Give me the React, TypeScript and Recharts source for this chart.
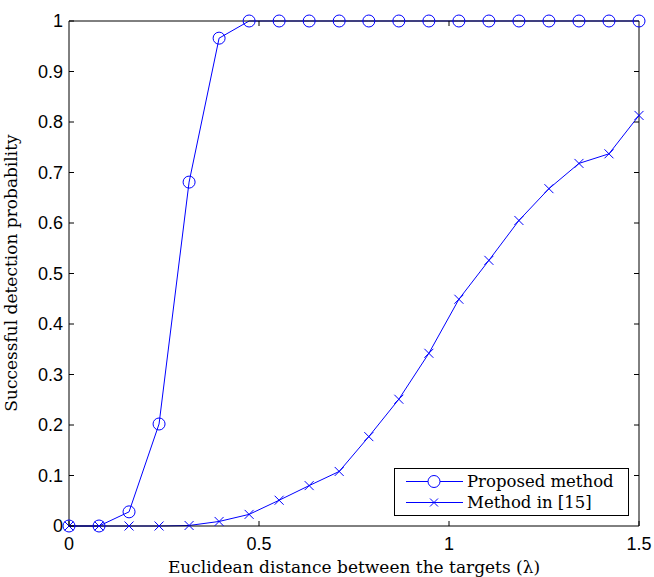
import React from "react";
import { LineChart, Line, XAxis, YAxis, Legend } from "recharts";

const distances = [
  0, 0.079, 0.158, 0.237, 0.316, 0.395, 0.474, 0.553, 0.632, 0.711, 0.789,
  0.868, 0.947, 1.026, 1.105, 1.184, 1.263, 1.342, 1.421, 1.5,
];
const proposed = [
  0, 0, 0.028, 0.202, 0.681, 0.966, 1, 1, 1, 1, 1, 1, 1, 1, 1, 1, 1, 1, 1, 1,
];
const method15 = [
  0, 0, 0, 0, 0.001, 0.009, 0.023, 0.051, 0.08, 0.108, 0.177, 0.251, 0.342,
  0.449, 0.526, 0.605, 0.668, 0.718, 0.737, 0.813,
];
const xTicks = [0, 0.5, 1, 1.5];
const yTicks = [0, 0.1, 0.2, 0.3, 0.4, 0.5, 0.6, 0.7, 0.8, 0.9, 1];

const data = distances.map((d, i) => ({
  d,
  proposed: proposed[i],
  method15: method15[i],
}));

const BLUE = "#0000ff";
const SANS = "'Liberation Sans', Arial, sans-serif";
const SERIF = "'DejaVu Serif', serif";

const BottomTick = (props: any) => {
  const { x, y, payload } = props;
  return (
    <g>
      <line x1={x} x2={x} y1={y} y2={y - 5} stroke="#000" />
      <text x={x} y={y + 24} textAnchor="middle" fontSize={18} fontFamily={SANS} fill="#000">
        {payload.value}
      </text>
    </g>
  );
};

const LeftTick = (props: any) => {
  const { x, y, payload } = props;
  return (
    <g>
      <line x1={x} x2={x + 5} y1={y} y2={y} stroke="#000" />
      <text x={x - 6} y={y} dy="0.36em" textAnchor="end" fontSize={18} fontFamily={SANS} fill="#000">
        {payload.value}
      </text>
    </g>
  );
};

const TopTick = (props: any) => {
  const { x, y } = props;
  return <line x1={x} x2={x} y1={y} y2={y + 5} stroke="#000" />;
};

const RightTick = (props: any) => {
  const { x, y } = props;
  return <line x1={x} x2={x - 5} y1={y} y2={y} stroke="#000" />;
};

const CrossDot = (props: any) => {
  const { cx, cy, index } = props;
  if (cx == null || cy == null) return <g key={index} />;
  const s = 4.5;
  return (
    <path
      key={index}
      d={`M${cx - s},${cy - s}L${cx + s},${cy + s}M${cx - s},${cy + s}L${cx + s},${cy - s}`}
      stroke={BLUE}
      strokeWidth={1}
      fill="none"
    />
  );
};

const LegendBox = () => (
  <div
    style={{
      border: "1px solid #000",
      background: "#fff",
      padding: "2px 0 2px 11px",
      fontFamily: SERIF,
      fontSize: 16.5,
      color: "#000",
      boxSizing: "border-box",
      width: 235,
    }}
  >
    {[
      { name: "Proposed method", marker: "circle" },
      { name: "Method in [15]", marker: "cross" },
    ].map((r) => (
      <div key={r.name} style={{ display: "flex", alignItems: "center", height: 21, lineHeight: "21px" }}>
        <svg width={57} height={21} style={{ display: "block" }}>
          <line x1={0} x2={57} y1={10.5} y2={10.5} stroke={BLUE} strokeWidth={1} />
          {r.marker === "circle" ? (
            <circle cx={28} cy={10.5} r={6} fill="#fff" stroke={BLUE} />
          ) : (
            <path d="M24,6.5L32,14.5M24,14.5L32,6.5" stroke={BLUE} fill="none" />
          )}
        </svg>
        <span style={{ marginLeft: 4, whiteSpace: "nowrap" }}>{r.name}</span>
      </div>
    ))}
  </div>
);

export default function App() {
  return (
    <div style={{ position: "absolute", left: 0, top: 0, background: "#fff" }}>
      <LineChart
        width={654}
        height={577}
        data={data}
        margin={{ top: 20, right: 14, left: 0, bottom: 0 }}
      >
        <XAxis
          dataKey="d"
          type="number"
          domain={[0, 1.5]}
          ticks={xTicks}
          height={51}
          tickLine={false}
          tickSize={0}
          tickMargin={0}
          tick={<BottomTick />}
          axisLine={{ stroke: "#000" }}
          label={{
            content: () => (
              <text x={354} y={573} textAnchor="middle" fontSize={17} fontFamily={SERIF} fill="#000">
                Euclidean distance between the targets (λ)
              </text>
            ),
          }}
        />
        <XAxis
          xAxisId="top"
          dataKey="d"
          orientation="top"
          type="number"
          domain={[0, 1.5]}
          ticks={[0.5, 1]}
          height={1}
          tickLine={false}
          tickSize={0}
          tickMargin={0}
          tick={<TopTick />}
          axisLine={{ stroke: "#000" }}
        />
        <YAxis
          type="number"
          domain={[0, 1]}
          ticks={yTicks}
          width={69}
          tickLine={false}
          tickSize={0}
          tickMargin={0}
          tick={<LeftTick />}
          axisLine={{ stroke: "#000" }}
          label={{
            content: () => (
              <text
                x={17}
                y={273}
                transform="rotate(-90 17 273)"
                textAnchor="middle"
                fontSize={17}
                fontFamily={SERIF}
                fill="#000"
              >
                Successful detection probability
              </text>
            ),
          }}
        />
        <YAxis
          yAxisId="right"
          orientation="right"
          type="number"
          domain={[0, 1]}
          ticks={yTicks.slice(1, -1)}
          width={1}
          tickLine={false}
          tickSize={0}
          tickMargin={0}
          tick={<RightTick />}
          axisLine={{ stroke: "#000" }}
        />
        {/* invisible series so the top and right frame axes get drawn */}
        <Line
          xAxisId="top"
          yAxisId="right"
          dataKey="proposed"
          stroke="none"
          dot={false}
          activeDot={false}
          legendType="none"
          isAnimationActive={false}
        />
        <Line
          dataKey="proposed"
          name="Proposed method"
          type="linear"
          stroke={BLUE}
          strokeWidth={1}
          dot={{ r: 6, fill: "none", stroke: BLUE, strokeWidth: 1 }}
          activeDot={false}
          isAnimationActive={false}
        />
        <Line
          dataKey="method15"
          name="Method in [15]"
          type="linear"
          stroke={BLUE}
          strokeWidth={1}
          dot={<CrossDot />}
          activeDot={false}
          isAnimationActive={false}
        />
        <Legend
          layout="horizontal"
          align="center"
          verticalAlign="middle"
          content={() => <LegendBox />}
          wrapperStyle={{ left: 394, top: 468, width: 235, height: 48 }}
        />
      </LineChart>
    </div>
  );
}
